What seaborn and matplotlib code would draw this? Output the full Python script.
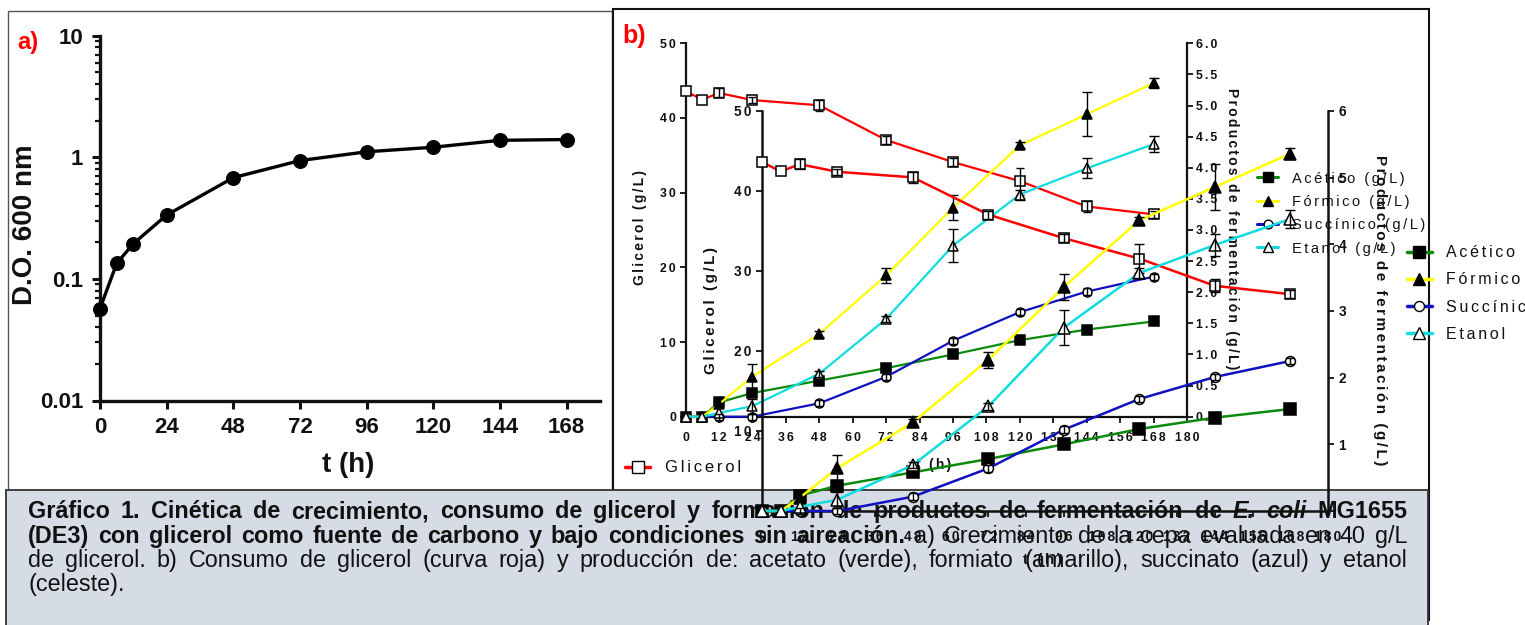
import matplotlib
matplotlib.use('Agg')
import matplotlib.pyplot as plt
import seaborn as sns
import numpy as np
from matplotlib.patches import Rectangle
from matplotlib.lines import Line2D
from matplotlib.font_manager import FontProperties
from matplotlib.ticker import LogLocator, NullFormatter

sns.set_style('ticks')
plt.rcParams['font.family'] = ['Liberation Sans', 'DejaVu Sans']
plt.rcParams['text.color'] = '#111111'

# ---------------- DATA ----------------
t_growth = [0, 6, 12, 24, 48, 72, 96, 120, 144, 168]
od600 = [0.057, 0.134, 0.195, 0.335, 0.68, 0.94, 1.11, 1.21, 1.38, 1.40]

t_ferm = [0, 6, 12, 24, 48, 72, 96, 120, 144, 168]
glicerol = [43.6, 42.45, 43.35, 42.4, 41.7, 37.05, 34.1, 31.55, 28.15, 27.1]
glicerol_err = [0, 0, 0.6, 0.4, 0.7, 0.5, 0.5, 1.8, 0.8, 0.5]
acetico = [0, 0, 0.23, 0.38, 0.58, 0.78, 1.00, 1.23, 1.40, 1.53]
acetico_err = [0, 0, 0, 0, 0, 0, 0, 0, 0, 0]
formico = [0, 0, 0.20, 0.645, 1.33, 2.27, 3.36, 4.36, 4.86, 5.36]
formico_err = [0, 0, 0, 0.2, 0.05, 0.12, 0.2, 0.05, 0.35, 0.08]
succinico = [0, 0, 0, 0, 0.215, 0.64, 1.22, 1.68, 2.01, 2.25]
succinico_err = [0, 0, 0.05, 0.05, 0.05, 0.05, 0.05, 0.05, 0.05, 0.05]
etanol = [0, 0, 0.06, 0.17, 0.69, 1.57, 2.75, 3.57, 3.99, 4.38]
etanol_err = [0, 0, 0, 0.12, 0.05, 0.05, 0.26, 0.08, 0.16, 0.13]

growth_xticks = [0, 24, 48, 72, 96, 120, 144, 168]
growth_yticks = [0.01, 0.1, 1, 10]
growth_yticklabels = ['0.01', '0.1', '1', '10']
ferm_xticks = list(range(0, 181, 12))
glic_yticks = [0, 10, 20, 30, 40, 50]
prod_yticks = [0, 0.5, 1, 1.5, 2, 2.5, 3, 3.5, 4, 4.5, 5, 5.5, 6]
prod_yticks_inner = [0, 1, 2, 3, 4, 5, 6]

legend_outer = ['Acético (g/L)', 'Fórmico (g/L)', 'Succínico (g/L)', 'Etanol (g/L)']
legend_inner = ['Acético', 'Fórmico', 'Succínico', 'Etanol']

cap_l1_bold = "Gráfico 1. Cinética de crecimiento, consumo de glicerol y formación de productos de fermentación de"
cap_l1_ital = "E. coli"
cap_l1_end = "MG1655"
cap_l2_bold = "(DE3) con glicerol como fuente de carbono y bajo condiciones sin aireación."
cap_l2_norm = "a) Crecimiento de la cepa evaluada en 40 g/L"
cap_l3 = "de glicerol. b) Consumo de glicerol (curva roja) y producción de: acetato (verde), formiato (amarillo), succinato (azul) y etanol"
cap_l4 = "(celeste)."

# ---------------- STYLE ----------------
RED, GREEN, YELLOW, BLUE, CYAN = '#FF0000', '#0B8A0B', '#FFFF00', '#1010C0', '#10DCE0'
INK = '#111111'
HS = '\u200a'


def sp(s, k=1):
    return (HS * k).join(s)


W, H = 1525, 625
fig = plt.figure(figsize=(W / 100, H / 100), dpi=100)
fig.patch.set_facecolor('white')


def rect_px(l, t, r, b):
    return [l / W, 1 - b / H, (r - l) / W, (b - t) / H]


def frect(l, t, r, b, **kw):
    return Rectangle((l / W, 1 - b / H), (r - l) / W, (b - t) / H,
                     transform=fig.transFigure, **kw)


# panel frames and caption box
fig.add_artist(frect(8, 11, 612, 620, fill=False, edgecolor='#555555', lw=1.0, zorder=0.5))
fig.add_artist(frect(613, 9, 1429, 620, fill=False, edgecolor='#111111', lw=1.5, zorder=0.5))
fig.add_artist(frect(6, 490, 1428, 660, facecolor='#D6DCE5', edgecolor='#333333', lw=1.3, zorder=2))

# ---------------- PANEL A ----------------
axA = fig.add_axes(rect_px(100, 35.7, 600, 400.5))
axA.set_zorder(1)
axA.set_facecolor('none')
sns.lineplot(x=t_growth, y=od600, ax=axA, color='black', linewidth=2.4, marker='o',
             markersize=10, markeredgecolor='black', markerfacecolor='black',
             errorbar=None, clip_on=False, zorder=3)
axA.set_yscale('log')
axA.set_ylim(0.01, 10)
axA.set_xlim(0, 180)
axA.set_yticks(growth_yticks)
axA.set_yticklabels(growth_yticklabels)
axA.yaxis.set_minor_locator(LogLocator(base=10, subs=np.arange(2, 10)))
axA.yaxis.set_minor_formatter(NullFormatter())
axA.set_xticks(growth_xticks)
axA.tick_params(axis='both', which='major', direction='out', length=6, width=2.2,
                labelsize=16, pad=6, colors=INK)
axA.tick_params(axis='y', which='minor', direction='out', length=3.5, width=1.6, colors=INK)
axA.tick_params(axis='x', which='minor', bottom=False)
for lab in axA.get_xticklabels() + axA.get_yticklabels():
    lab.set_fontweight('bold')
for s in ['top', 'right']:
    axA.spines[s].set_visible(False)
for s in ['left', 'bottom']:
    axA.spines[s].set_linewidth(2.4)
    axA.spines[s].set_color(INK)
axA.set_ylabel('D.O. 600 nm', fontsize=20, fontweight='bold', color=INK, va='center')
axA.yaxis.set_label_coords(-0.15, 0.481)
axA.set_xlabel('t (h)', fontsize=20, fontweight='bold', color=INK, va='center')
axA.xaxis.set_label_coords(0.496, -0.177)
fig.text(17 / W, 1 - 43 / H, 'a)', color='#FF0000', fontsize=17, fontweight='bold',
         va='center', ha='left', zorder=1)
fig.text(622 / W, 1 - 36 / H, 'b)', color='#FF0000', fontsize=18, fontweight='bold',
         va='center', ha='left', zorder=1)

# ---------------- PANEL B ----------------
def draw_series(ax, y, err, color, marker, mfc, ms, lw, z):
    sns.lineplot(x=t_ferm, y=y, ax=ax, color=color, linewidth=lw, marker=marker,
                 markersize=ms, markerfacecolor=mfc, markeredgecolor='black',
                 markeredgewidth=1.1, errorbar=None, clip_on=False, zorder=z)
    tt = [t for t, e in zip(t_ferm, err) if e > 0]
    yy = [v for v, e in zip(y, err) if e > 0]
    ee = [e for e in err if e > 0]
    if tt:
        ax.errorbar(tt, yy, yerr=ee, fmt='none', ecolor='black', elinewidth=1.0,
                    capsize=ms * 0.45, capthick=1.0, zorder=z + 0.5, clip_on=False)


def build_b(rect, z, p):
    ax = fig.add_axes(rect)
    ax.set_zorder(z)
    ax.set_facecolor('none')
    ax2 = ax.twinx()
    ax2.set_zorder(z + 0.1)
    ax2.patch.set_visible(False)
    lw = p['lw']
    ms = p['ms']
    draw_series(ax, glicerol, glicerol_err, RED, 's', 'white', ms, lw, 3)
    draw_series(ax2, acetico, acetico_err, GREEN, 's', 'black', ms * 1.12, lw, 3)
    draw_series(ax2, formico, formico_err, YELLOW, '^', 'black', ms * 1.15, lw, 3.2)
    draw_series(ax2, succinico, succinico_err, BLUE, 'o', 'white', ms * 0.95, lw, 3.1)
    draw_series(ax2, etanol, etanol_err, CYAN, '^', 'white', ms * 1.1, lw, 3.3)
    ax.set_xlim(0, 180)
    ax.set_ylim(0, 50)
    ax2.set_ylim(0, 6)
    ax.set_xticks(ferm_xticks)
    ax.set_xticklabels([sp(str(v), 2) for v in ferm_xticks])
    ax.set_yticks(glic_yticks)
    ax.set_yticklabels(p['ylabels'])
    ax2.set_yticks(p['pticks'])
    ax2.set_yticklabels(p['plabels'])
    for a in (ax, ax2):
        a.tick_params(direction='out', length=p['tl'], width=1.3, colors=INK,
                      labelsize=p['tfs'])
    ax.tick_params(axis='x', pad=p['xpad'])
    ax.tick_params(axis='y', pad=p['ypad'])
    ax2.tick_params(axis='y', pad=p['ypad'])
    for lab in ax.get_xticklabels() + ax.get_yticklabels() + ax2.get_yticklabels():
        lab.set_fontweight('bold')
    ax.spines['top'].set_visible(False)
    ax.spines['right'].set_visible(False)
    for s in ['top', 'left', 'bottom']:
        ax2.spines[s].set_visible(False)
    for s in ['left', 'bottom']:
        ax.spines[s].set_linewidth(p['slw'])
        ax.spines[s].set_color(INK)
    ax2.spines['right'].set_linewidth(p['slw'])
    ax2.spines['right'].set_color(INK)
    ax.set_ylabel(sp('Glicerol (g/L)', 2), fontsize=p['lfs'], fontweight='bold', color=INK, va='center')
    ax.yaxis.set_label_coords(p['ylx'], p['yly'])
    ax2.set_ylabel(sp('Productos de fermentación (g/L)', 2), fontsize=p['lfs'], fontweight='bold',
                   color=INK, rotation=270, va='center')
    ax2.yaxis.set_label_coords(p['rlx'], p['rly'])
    ax.set_xlabel(sp('t (h)', 2), fontsize=p['lfs'], fontweight='bold', color=INK, va='center')
    ax.xaxis.set_label_coords(p['xlx'], p['xly'])
    return ax, ax2


outer_p = dict(lw=1.6, ms=6.8, tl=4.3, tfs=8.8, lfs=10, slw=1.6, xpad=7, ypad=2.5,
               ylabels=[sp(str(v), 2) for v in glic_yticks],
               pticks=prod_yticks, plabels=[sp(f'{v:.1f}', 2) for v in prod_yticks],
               ylx=-0.091, yly=0.508, rlx=1.09, rly=0.503, xlx=0.4955, xly=-0.129)
axO, axO2 = build_b(rect_px(685.5, 43.3, 1187, 416.7), 1, outer_p)

inner_p = dict(lw=1.8, ms=7.5, tl=4.5, tfs=9.8, lfs=11, slw=1.8, xpad=9, ypad=3,
               ylabels=[''] + [sp(str(v), 2) for v in glic_yticks[1:]],
               pticks=prod_yticks_inner, plabels=[''] + [str(v) for v in prod_yticks_inner[1:]],
               ylx=-0.09, yly=0.5, rlx=1.092, rly=0.503, xlx=0.495, xly=-0.1225)
axI, axI2 = build_b(rect_px(762, 111, 1328, 511), 3, inner_p)


def handles(ms, lw):
    return [Line2D([], [], color=GREEN, marker='s', mfc='black', mec='black', ms=ms, lw=lw),
            Line2D([], [], color=YELLOW, marker='^', mfc='black', mec='black', ms=ms, lw=lw),
            Line2D([], [], color=BLUE, marker='o', mfc='white', mec='black', ms=ms * 0.9, lw=lw),
            Line2D([], [], color=CYAN, marker='^', mfc='white', mec='black', ms=ms, lw=lw)]


legO = axO2.legend(handles(7, 2.2), [sp(s, 2) for s in legend_outer], loc='center left',
                   bbox_to_anchor=(1257 / W, 1 - 213.5 / H), bbox_transform=fig.transFigure,
                   frameon=False, fontsize=10.5, handlelength=1.45, handletextpad=0.95,
                   labelspacing=0.64, borderpad=0, borderaxespad=0, labelcolor=INK)
legI = axI2.legend(handles(8, 2.5), [sp(s, 2) for s in legend_inner], loc='center left',
                   bbox_to_anchor=(1407 / W, 1 - 293.5 / H), bbox_transform=fig.transFigure,
                   frameon=False, fontsize=11.5, handlelength=1.56, handletextpad=0.88,
                   labelspacing=0.76, borderpad=0, borderaxespad=0, labelcolor=INK)
legG = axO.legend([Line2D([], [], color=RED, marker='s', mfc='white', mec='black', ms=8, lw=2.5)],
                  [sp('Glicerol', 2)], loc='center left',
                  bbox_to_anchor=(625 / W, 1 - 468 / H), bbox_transform=fig.transFigure,
                  frameon=False, fontsize=12, handlelength=1.5, handletextpad=0.9,
                  borderpad=0, borderaxespad=0, labelcolor=INK)

# ---------------- CAPTION (justified) ----------------
CAP_FS = 16.8
fp_b = FontProperties(family=['Liberation Sans', 'DejaVu Sans'], weight='bold', size=CAP_FS)
fp_bi = FontProperties(family=['Liberation Sans', 'DejaVu Sans'], weight='bold', style='italic', size=CAP_FS)
fp_n = FontProperties(family=['Liberation Sans', 'DejaVu Sans'], weight='normal', size=CAP_FS)
renderer = fig.canvas.get_renderer()


def measure(w, fp):
    t = fig.text(0, 0, w, fontproperties=fp)
    wd = t.get_window_extent(renderer).width
    t.remove()
    return wd


def line(words, y, x0=28, x1=1407, justify=True):
    widths = [measure(w, fp) for w, fp in words]
    space = measure('a a', fp_n) - measure('aa', fp_n)
    if justify and len(words) > 1:
        gap = max((x1 - x0 - sum(widths)) / (len(words) - 1), space * 0.7)
    else:
        gap = space
    x = x0
    for (w, fp), wd in zip(words, widths):
        fig.text(x / W, 1 - y / H, w, fontproperties=fp, va='baseline', ha='left',
                 color='#111111', zorder=2.5)
        x += wd + gap


def words(s, fp):
    return [(w, fp) for w in s.split()]


line(words(cap_l1_bold, fp_b) + words(cap_l1_ital, fp_bi) + words(cap_l1_end, fp_b), 518)
line(words(cap_l2_bold, fp_b) + words(cap_l2_norm, fp_n), 543)
line(words(cap_l3, fp_n), 567)
line(words(cap_l4, fp_n), 591, justify=False)

fig.savefig('out.png', dpi=100)
